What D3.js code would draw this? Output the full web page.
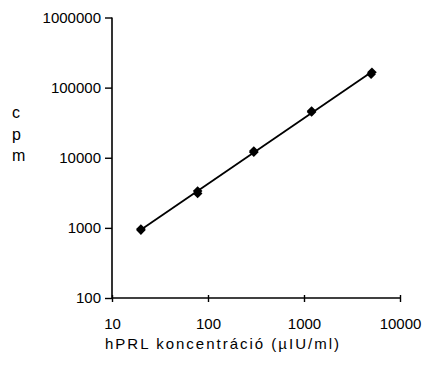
<!DOCTYPE html>
<html><head><meta charset="utf-8">
<script src="https://cdn.jsdelivr.net/npm/d3@7/dist/d3.min.js"></script>
<style>
html,body{margin:0;padding:0;background:#fff;}
text{font-family:"Liberation Sans",Arial,sans-serif;fill:#000;}
</style></head><body>
<script>
// Data
const concentration = [20, 20, 78, 78, 300, 300, 1200, 1200, 5000, 5100];
const cpm = [930, 960, 3100, 3350, 12000, 12500, 45000, 46500, 155000, 166000];
const xTicks = [10, 100, 1000, 10000];
const yTicks = [100, 1000, 10000, 100000, 1000000];
const xTitle = "hPRL koncentráció (µIU/ml)";
const yTitleChars = ["c", "p", "m"];

const W = 426, H = 365;
const svg = d3.select("body").append("svg").attr("width", W).attr("height", H);

const x = d3.scaleLog().domain([10, 10000]).range([112, 400]);
const y = d3.scaleLog().domain([100, 1000000]).range([298, 17.5]);

// axes
const yAxis = d3.axisLeft(y).tickValues(yTicks).tickFormat(d3.format("d")).tickSize(7).tickPadding(4);
const gy = svg.append("g").attr("transform", "translate(112,0)").call(yAxis);
gy.select(".domain").attr("stroke", "#000").attr("stroke-width", 1.6).attr("d", `M0,${y(1000000)}V${y(100)}`);
gy.selectAll(".tick line").attr("stroke-width", 1.4);
gy.selectAll(".tick text").style("font-size", "15px").attr("font-family", null);

const xAxis = d3.axisBottom(x).tickValues(xTicks).tickFormat(d3.format("d")).tickSize(4).tickPadding(16);
const gx = svg.append("g").attr("transform", "translate(0,298)").call(xAxis);
gx.select(".domain").attr("stroke", "#000").attr("stroke-width", 1.6).attr("d", `M${x(10)},0H${x(10000)}`);
gx.selectAll(".tick line").attr("y1", -3).attr("y2", 4).attr("stroke-width", 1.4);
gx.selectAll(".tick text").style("font-size", "15px").attr("font-family", null);

// fitted line (log-log regression)
const lx = concentration.map(Math.log10), ly = cpm.map(Math.log10);
const mx = d3.mean(lx), my = d3.mean(ly);
const slope = d3.sum(lx.map((v, i) => (v - mx) * (ly[i] - my))) / d3.sum(lx.map(v => (v - mx) ** 2));
const icpt = my - slope * mx;
const ext = d3.extent(concentration);
const fit = ext.map(c => [c, Math.pow(10, icpt + slope * Math.log10(c))]);
svg.append("path")
  .attr("d", d3.line().x(d => x(d[0])).y(d => y(d[1]))(fit))
  .attr("stroke", "#000").attr("stroke-width", 1.8).attr("fill", "none");

// markers
const r = 4.8;
svg.append("g").selectAll("path").data(concentration.map((c, i) => [c, cpm[i]])).join("path")
  .attr("transform", d => `translate(${x(d[0])},${y(d[1])})`)
  .attr("d", `M0,${-r}L${r},0L0,${r}L${-r},0Z`)
  .attr("fill", "#000");

// titles
svg.append("text").attr("x", 223).attr("y", 349).attr("text-anchor", "middle")
  .style("font-size", "15px").style("letter-spacing", "2px").text(xTitle);
svg.append("g").selectAll("text").data(yTitleChars).join("text")
  .attr("x", 12).attr("y", (d, i) => 118 + i * 21.5)
  .style("font-size", "16px").text(d => d);
</script>
</body></html>
